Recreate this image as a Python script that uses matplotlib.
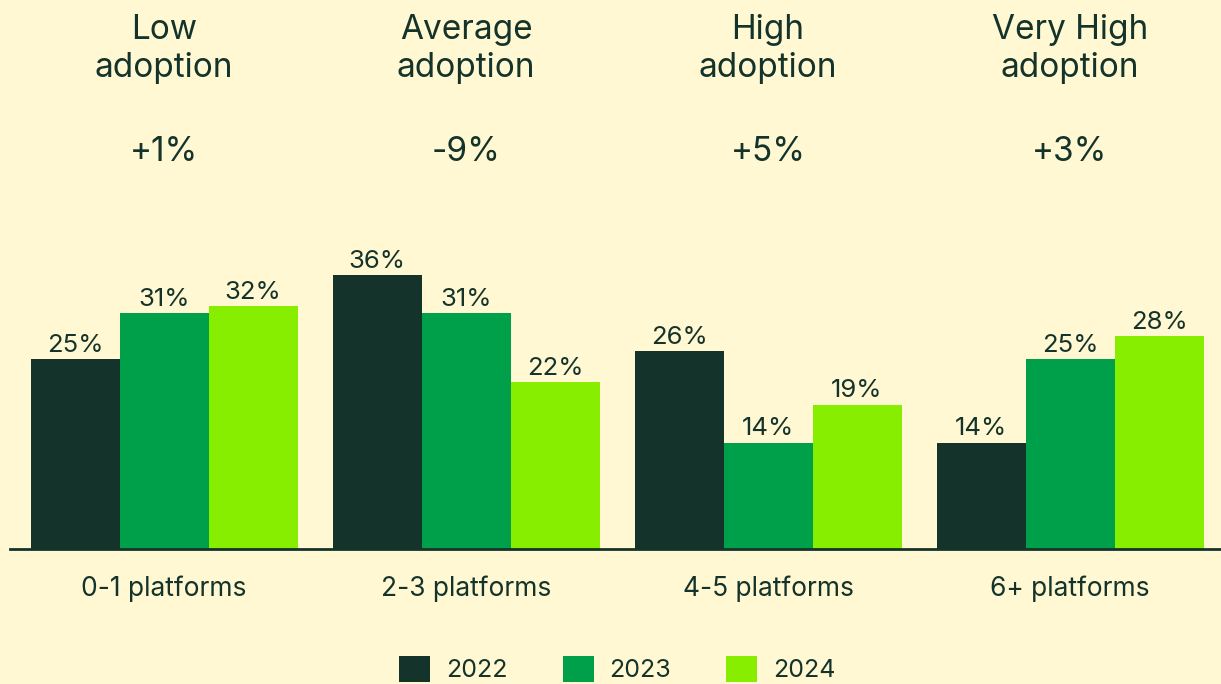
import matplotlib
matplotlib.use("Agg")
import matplotlib.pyplot as plt
import matplotlib.transforms as mtransforms
from matplotlib.patches import Patch
import numpy as np

categories = ["0-1 platforms", "2-3 platforms", "4-5 platforms", "6+ platforms"]
headers = ["Low\nadoption", "Average\nadoption", "High\nadoption", "Very High\nadoption"]
changes = ["+1%", "-9%", "+5%", "+3%"]
years = ["2022", "2023", "2024"]
v2022 = [25, 36, 26, 14]
v2023 = [31, 31, 14, 25]
v2024 = [32, 22, 19, 28]

colors = ["#14332A", "#00A04A", "#88EE00"]
text_color = "#14332A"
bg = "#FFF8D3"

plt.rcParams['font.family'] = ['Inter', 'DejaVu Sans']

fig = plt.figure(figsize=(12.21, 6.84), dpi=100, facecolor=bg)
ax = fig.add_axes([10/1221, 135/684, 1211/1221, 349/684])
ax.set_facecolor(bg)

x = np.arange(len(categories))
w = 89/302
series = [v2022, v2023, v2024]
for i, (vals, c) in enumerate(zip(series, colors)):
    pos = x + (i - 1) * w
    ax.bar(pos, vals, width=w, color=c, linewidth=0)
    for px, v in zip(pos, vals):
        ax.annotate(f"{v}%", (px, v), xytext=(0, 1.5), textcoords="offset points",
                    ha="center", va="bottom", fontsize=18.5, color=text_color)

ax.set_xlim(-0.51, 3.5)
ax.set_ylim(0, 45.9)
for s in ["top", "right", "left"]:
    ax.spines[s].set_visible(False)
ax.spines["bottom"].set_color(text_color)
ax.spines["bottom"].set_linewidth(2)
ax.set_yticks([])
ax.set_xticks(x, categories)
ax.tick_params(axis="x", length=0, pad=19, labelsize=19, labelcolor=text_color)

trans = mtransforms.blended_transform_factory(ax.transData, fig.transFigure)
for xi, h, ch in zip(x, headers, changes):
    ax.text(xi, 1 - 49/684, h, transform=trans, ha="center", va="center",
            fontsize=24, color=text_color, linespacing=1.27)
    ax.text(xi, 1 - 152/684, ch, transform=trans, ha="center", va="center",
            fontsize=24, color=text_color)

handles = [Patch(facecolor=c, edgecolor="none", label=y) for c, y in zip(colors, years)]
fig.legend(handles=handles, loc="center", bbox_to_anchor=(0.5057, 1 - 669/684),
           ncol=3, frameon=False, fontsize=18, labelcolor=text_color,
           handlelength=1.24, handleheight=1.24, handletextpad=0.64,
           columnspacing=2.2, borderpad=0)

fig.savefig("out.png", dpi=100, facecolor=bg)
